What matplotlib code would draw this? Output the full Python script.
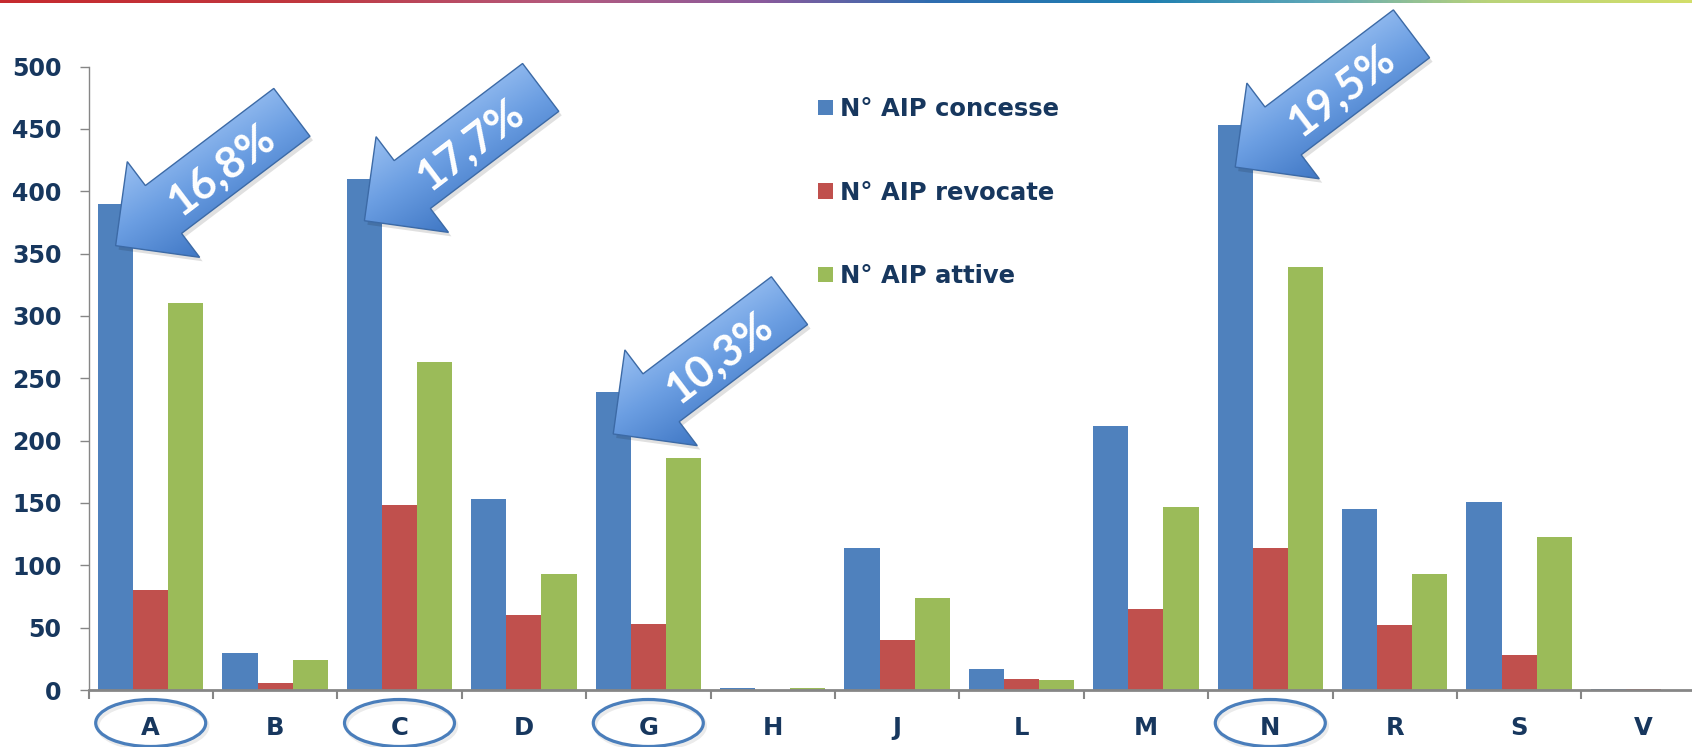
import numpy as np
import matplotlib
matplotlib.use('Agg')
import matplotlib.pyplot as plt
from matplotlib.patches import Polygon, Ellipse
from matplotlib.colors import LinearSegmentedColormap

# ---------------- data ----------------
categories = ['A', 'B', 'C', 'D', 'G', 'H', 'J', 'L', 'M', 'N', 'R', 'S', 'V']
concesse = [390, 30, 410, 153, 239, 2, 114, 17, 212, 453, 145, 151, 1]
revocate = [80, 6, 148, 60, 53, 0, 40, 9, 65, 114, 52, 28, 1]
attive = [310, 24, 263, 93, 186, 2, 74, 8, 147, 339, 93, 123, 0]
series_labels = ['N° AIP concesse', 'N° AIP revocate', 'N° AIP attive']
highlight = ['A', 'C', 'G', 'N']
highlight_pct = ['16,8%', '17,7%', '10,3%', '19,5%']
yticks = list(range(0, 501, 50))

# ---------------- style ----------------
W, H = 1692, 747
navy = '#17375E'
grey = '#868686'
colors = ['#4F81BD', '#C0504D', '#9BBB59']
plt.rcParams['font.family'] = ['DejaVu Sans']
plt.rcParams['font.weight'] = 'bold'

fig = plt.figure(figsize=(W / 100, H / 100), dpi=100)
fig.patch.set_facecolor('white')

ax = fig.add_axes([88.5 / W, 57 / H, 13 * 124.4 / W, 623.5 / H])
x = np.arange(len(categories))
bw = 0.282
for i, (vals, c, lab) in enumerate(zip([concesse, revocate, attive], colors, series_labels)):
    ax.bar(x + (i - 1) * bw, vals, bw, color=c, label=lab, linewidth=0, zorder=2)

ax.set_xlim(-0.5, len(categories) - 0.5)
ax.set_ylim(0, 500)
for s in ['top', 'right']:
    ax.spines[s].set_visible(False)
ax.spines['left'].set_color(grey)
ax.spines['left'].set_linewidth(1.0)
ax.spines['bottom'].set_color(grey)
ax.spines['bottom'].set_linewidth(2.0)
ax.spines['bottom'].set_zorder(3)

ax.set_yticks(yticks)
ax.tick_params(axis='y', direction='out', length=6.5, width=1, color=grey,
               pad=13, labelsize=17, labelcolor=navy)
ax.set_xticks(x, categories)
ax.set_xticks(np.arange(-0.5, len(categories) + 0.5, 1), minor=True)
ax.tick_params(axis='x', which='major', length=0, pad=18.5, labelsize=17.5, labelcolor=navy)
ax.tick_params(axis='x', which='minor', length=6.5, width=1.5, color=grey, direction='out')
for lbl in ax.get_xticklabels() + ax.get_yticklabels():
    lbl.set_fontweight('bold')

leg = ax.legend(loc='upper left', bbox_to_anchor=(818 / W, 1 - 97 / H),
                bbox_transform=fig.transFigure, frameon=False, fontsize=17.5,
                handlelength=0.6, handleheight=0.6, handletextpad=0.3,
                labelspacing=2.45, borderpad=0, borderaxespad=0)
for t in leg.get_texts():
    t.set_color(navy)
    t.set_fontweight('bold')

# ---------------- overlay (pixel coordinates) ----------------
ov = fig.add_axes([0, 0, 1, 1], zorder=10)
ov.set_xlim(0, W)
ov.set_ylim(0, H)
ov.axis('off')
ov.patch.set_alpha(0)

# top gradient rule
rule_cmap = LinearSegmentedColormap.from_list('rule', [
    (0.0, '#C62A2F'), (0.18, '#C0383F'), (0.33, '#B45A7E'), (0.45, '#8A5A9C'),
    (0.55, '#2F6DB0'), (0.68, '#1F7FB0'), (0.78, '#5FA8B8'), (0.88, '#B9D37A'),
    (1.0, '#D2DE6A')])
ov.imshow(np.linspace(0, 1, 600)[None, :], cmap=rule_cmap, extent=(0, W, H - 3.5, H),
          aspect='auto', zorder=1)

# arrows
arrow_cmap = LinearSegmentedColormap.from_list('arr', ['#A6C9F6', '#6B9EE2', '#3C74C2'])
ang = np.deg2rad(37.1)
d = np.array([np.cos(ang), np.sin(ang)])
n = np.array([-np.sin(ang), np.cos(ang)])
shape_uv = [(0, 0), (60, 60), (60, 30), (221, 30), (221, -30), (60, -30), (60, -60)]
drop_px = 42

for cat, pct in zip(highlight, highlight_pct):
    k = categories.index(cat)
    tip = ax.transData.transform((x[k] - bw, concesse[k])) - np.array([0, drop_px])
    pts = np.array([tip + u * d + v * n for u, v in shape_uv])
    # shadow
    ov.add_patch(Polygon(pts + np.array([3, -4]), closed=True, facecolor='#000000',
                         alpha=0.12, edgecolor='none', zorder=3))
    poly = Polygon(pts, closed=True, facecolor='none', edgecolor='#3C6AA6', lw=1.0, zorder=5)
    ov.add_patch(poly)
    x0, y0 = pts.min(axis=0)
    x1, y1 = pts.max(axis=0)
    gx, gy = np.meshgrid(np.linspace(x0, x1, 200), np.linspace(y1, y0, 200))
    vv = (gx - tip[0]) * n[0] + (gy - tip[1]) * n[1]
    uu = (gx - tip[0]) * d[0] + (gy - tip[1]) * d[1]
    tt = np.clip(0.85 * (60 - vv) / 120 + 0.15 * (1 - uu / 221), 0, 1)
    im = ov.imshow(tt, cmap=arrow_cmap, vmin=0, vmax=1, extent=(x0, x1, y0, y1),
                   aspect='auto', zorder=4, interpolation='bilinear')
    im.set_clip_path(poly)
    c = tip + 130 * d + (-3) * n
    ov.text(c[0], c[1], pct, rotation=np.rad2deg(ang), rotation_mode='anchor',
            ha='center', va='center', color='white', fontsize=31.5, fontweight='bold',
            family=['Lato', 'DejaVu Sans'], zorder=6)

    # ellipse around category label
    cx = ax.transData.transform((x[k], 0))[0]
    ov.add_patch(Ellipse((cx + 2, H - 726), 110, 47, facecolor='none',
                         edgecolor='#000000', alpha=0.08, lw=2.5, zorder=3))
    ov.add_patch(Ellipse((cx, H - 723), 110, 47, facecolor='none',
                         edgecolor='#4A7EBB', lw=2.3, zorder=4))

ov.set_xlim(0, W)
ov.set_ylim(0, H)

fig.savefig('out.png', dpi=100, facecolor='white')
